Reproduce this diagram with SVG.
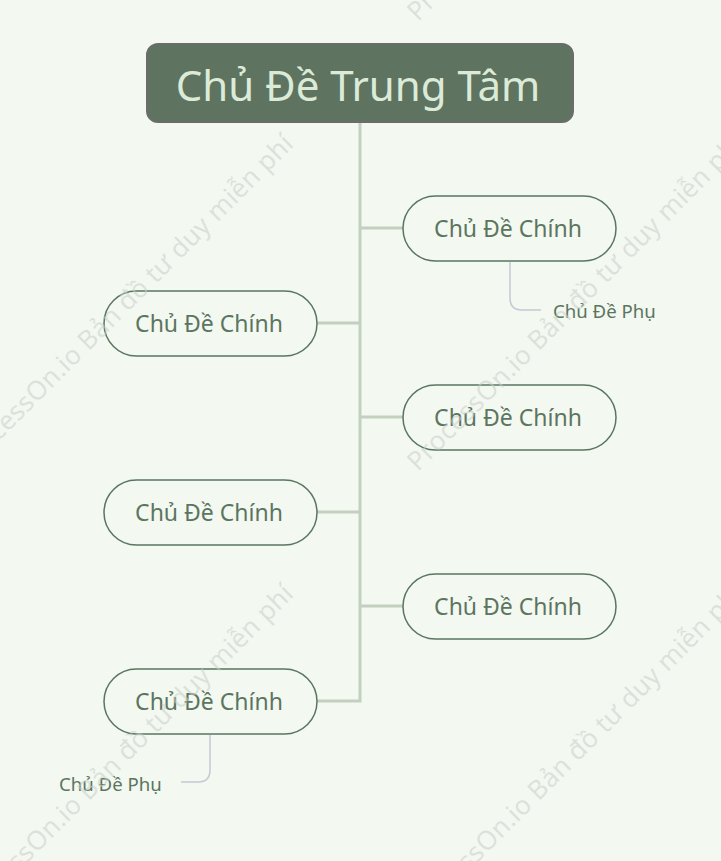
<svg xmlns="http://www.w3.org/2000/svg" width="721" height="861" viewBox="0 0 721 861">
<defs>
<style>
.wm{font-family:"Open Sans","Liberation Sans",sans-serif;font-size:26px;fill:#c9d0c8;opacity:0.55}
.main rect{fill:#f3f8f1;stroke:#5b7560;stroke-width:1.5}
.main text{font-family:"Noto Sans","Open Sans","Liberation Sans",sans-serif;font-size:23px;fill:#5b7560;text-anchor:middle;dominant-baseline:central}
.sub text{font-family:"Noto Sans","Open Sans","Liberation Sans",sans-serif;font-size:18.6px;fill:#5b7560;dominant-baseline:central}
.trunk{stroke:#c3d0c0;stroke-width:3;fill:none}
.subline{stroke:#c9c6d8;stroke-width:1.5;fill:none}
</style>
</defs>
<rect width="721" height="861" fill="#f3f8f1"/>
<g id="connectors">
<path class="trunk" d="M360 122 V701 H317"/>
<path class="trunk" d="M360 228 H403"/>
<path class="trunk" d="M360 323 H317"/>
<path class="trunk" d="M360 417 H403"/>
<path class="trunk" d="M360 512 H317"/>
<path class="trunk" d="M360 606 H403"/>
<path class="subline" d="M510 262 V298 Q510 310 522 310 H541"/>
<path class="subline" d="M210 735 V770 Q210 782 198 782 H181"/>
</g>
<g id="central">
<rect x="147" y="44" width="426" height="78" rx="11" fill="#5e7360" stroke="#6a6d69" stroke-width="2"/>
<text x="358" y="84" font-family="Noto Sans,Open Sans,Liberation Sans,sans-serif" font-size="42" fill="#dcebd8" text-anchor="middle" dominant-baseline="central">Chủ Đề Trung Tâm</text>
</g>
<g id="main1" class="main"><rect x="403" y="196" width="213" height="65" rx="32.5"/><text x="508" y="228">Chủ Đề Chính</text></g>
<g id="main2" class="main"><rect x="104" y="291" width="213" height="65" rx="32.5"/><text x="209" y="323">Chủ Đề Chính</text></g>
<g id="main3" class="main"><rect x="403" y="385" width="213" height="65" rx="32.5"/><text x="508" y="417">Chủ Đề Chính</text></g>
<g id="main4" class="main"><rect x="104" y="480" width="213" height="65" rx="32.5"/><text x="209" y="512">Chủ Đề Chính</text></g>
<g id="main5" class="main"><rect x="403" y="574" width="213" height="65" rx="32.5"/><text x="508" y="606">Chủ Đề Chính</text></g>
<g id="main6" class="main"><rect x="104" y="669" width="213" height="65" rx="32.5"/><text x="209" y="701">Chủ Đề Chính</text></g>
<g id="sub1" class="sub"><text x="553" y="310">Chủ Đề Phụ</text></g>
<g id="sub2" class="sub"><text x="59" y="783">Chủ Đề Phụ</text></g>
<g id="watermark">
<text class="wm" transform="translate(-32,472) rotate(-45)" textLength="462">ProcessOn.io Bản đồ tư duy miễn phí</text>
<text class="wm" transform="translate(418,472) rotate(-45)" textLength="462">ProcessOn.io Bản đồ tư duy miễn phí</text>
<text class="wm" transform="translate(418,22) rotate(-45)" textLength="462">ProcessOn.io Bản đồ tư duy miễn phí</text>
<text class="wm" transform="translate(-32,922) rotate(-45)" textLength="462">ProcessOn.io Bản đồ tư duy miễn phí</text>
<text class="wm" transform="translate(418,922) rotate(-45)" textLength="462">ProcessOn.io Bản đồ tư duy miễn phí</text>
</g>
</svg>
